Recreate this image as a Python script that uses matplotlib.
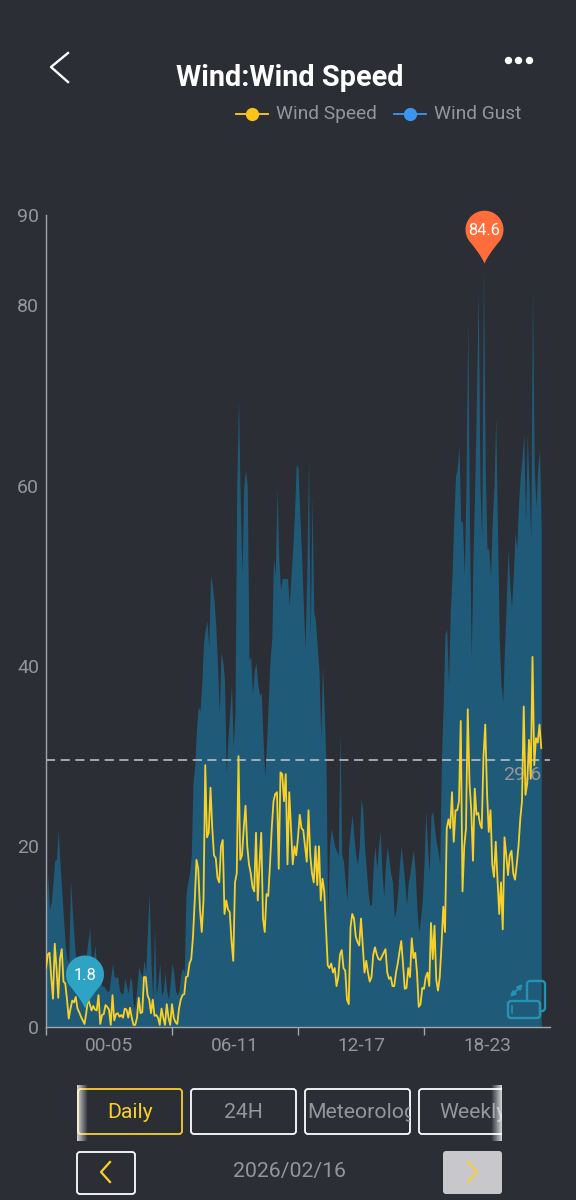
import numpy as np
import matplotlib
matplotlib.use("Agg")
import matplotlib.pyplot as plt
from matplotlib.patches import FancyBboxPatch, Polygon, Rectangle

plt.rcParams['font.family'] = ['Roboto', 'DejaVu Sans']

# one value every 5 minutes, 00:00 to 23:35
wind_speed = [
    6.5,8.0,8.2,5.5,3.1,9.2,6.5,3.2,7.5,8.6,5.0,4.8,
    3.0,0.9,2.0,2.9,2.7,3.3,2.0,1.6,1.1,0.7,0.3,1.5,
    3.1,2.5,1.8,2.3,1.9,1.8,3.5,0.3,1.3,1.4,2.4,2.2,
    1.9,0.2,3.5,0.7,1.4,1.5,1.1,1.3,1.0,2.0,1.9,1.0,
    2.1,1.0,0.2,0.2,1.0,3.2,1.5,1.6,5.5,5.5,3.5,3.0,
    1.5,3.0,1.2,1.3,1.0,0.2,2.0,1.0,0.2,2.5,1.0,0.2,
    2.5,1.0,0.5,0.3,2.0,3.0,3.5,3.6,5.5,5.6,7.0,7.5,
    10,14,18.5,17.5,13,10.5,14,29,21,21.5,26.5,22,
    19,18.7,16.5,16,20,20.7,12.5,14,13,12.7,9.5,7.3,
    16,17,30,18.5,19,22,24.5,20,18,17,15.5,15,
    21.5,14,18,21.5,12,10.5,14.7,14.5,18,22,25,25.8,
    26,17.5,28.2,28,25,28,18,26,22,18,20,19,
    21,23.5,22,21.8,20,18.3,24,19,17,16,20,15.7,
    20,14,16.4,15,11,6.8,6.5,7,6,6.5,4.5,5.5,
    8,8.5,6.5,6.2,3,2.5,11,12.5,12,10,9.4,9,
    12,9,6,7.3,6,5,5.5,8,8.8,8,7.5,7.4,
    7.8,8.2,8.6,6,5.3,5.5,4.5,4.5,6,7,8.3,9.5,
    7,4.2,4.3,6.5,5.5,9.8,7.6,8.2,6,2.2,2.5,4.3,
    4.2,5.5,6,4.5,11.5,7.5,11.2,5.2,4,5.5,9,13.3,
    10.5,22,23,22,26,20.5,24,24,25,33.9,15,20,
    22,35.2,27,24,18.4,26.4,23.5,23.7,22.5,22,30,33.5,
    26,21.6,24,18,16.6,20.5,16.3,12.5,16,10.8,21,19,
    16.8,19,19.5,17,16.3,18,20,23,25,35.5,25.7,27,
    31.8,27.5,41,29,32,31.5,33.5,30.9,
]
wind_gust = [
    12,16.8,13,13.8,16,18.5,18.5,21.8,18,15,12,9,
    7.5,7,16.3,13,10,7.4,6.5,5.5,4.8,6.5,6,8,
    9.5,10.9,7,7.5,9,6.5,5.5,5.2,4.5,4.5,4.2,3.9,
    4,5.5,7,5.5,5.5,5.5,4,3.7,3.7,5.4,4.5,3.7,
    5.5,5,2,2.5,4.5,6.7,6,5.5,7.4,6,11,14.8,
    7,3,10.9,3.5,5,7,3.5,4,6,4,3,5,
    7,6,4,3.5,4,5.8,6.5,6,14.8,16,17,19,
    27,29,33,35.5,35,38,42.5,44,45,42,50,49,
    47.3,44.5,40,34.7,41.5,40.5,38.5,28,32,35,38,31,
    35,60,69.8,58,50,60,61.7,60,40.7,41,36.8,39.5,
    40.3,38,36.8,37,32,27.7,31.4,36,40.6,43,52,50,
    59.7,52,48.5,49.7,49.7,49.7,49.7,46.7,50,53,57,62.3,
    62,57,52.5,47,42,50,63,43,58.8,46,45,42,
    39.5,32,40,35,29,12,20,22,21,20,19.5,19,
    32.9,19,18.3,16,14,20,22,23.5,21,19,18,20,
    25.3,24,20,17.5,15,13.5,13.5,18,20,17.5,20,21.6,
    17,14.4,18,20,18.5,17,16,12,13,15,18,20,
    18,16,13.5,16,17,18.5,19.6,17,13,10.5,12,14,
    18,24,20,17,23.5,23.8,22,20.5,19.5,18,30,36,
    43.6,44,38,46,50,56,61,62,64.3,56,56,50,
    60,78.3,55,41,52,60,70,81.5,60,54,84.6,62,
    53,53,50,56,60,67.6,55,43,38,36,42,47,
    53,49,46.5,50,54.7,53,58,61,63,65.8,56,65.8,
    60,54,82,62,57.6,62,64,55,
]
y_ticks = [0, 20, 40, 60, 80, 90]
hour_ticks = [0, 72, 144, 216]
hour_labels = ["00-05", "06-11", "12-17", "18-23"]
hour_label_pos = [36, 108, 180, 252]
average_speed = 29.6
min_value = 1.8
min_index = 22

n = min(len(wind_speed), len(wind_gust))
samples = np.arange(n)

bg = "#2b2e35"
gray = "#94969c"
axis_col = "#a3a6ac"
yellow = "#fbd026"
teal = "#2fa3c4"

fig = plt.figure(figsize=(5.76, 12), dpi=100, facecolor=bg)

ax = fig.add_axes([46/576, (1200-1026.7)/1200, 504/576, 811.7/1200], facecolor=bg)
ax.fill_between(samples, wind_gust[:n], color="#1f5b78", lw=0, zorder=1)
ax.axhline(average_speed, color="#c4c7cb", lw=1.1, dashes=(6, 3.6), zorder=2)
ax.text(n-1, average_speed-1.7, "29.6", color=gray, fontsize=14, ha="right", va="center", zorder=3)
ax.plot(samples, wind_speed[:n], color=yellow, lw=1.3, zorder=4)

ax.set_xlim(0, 288)
ax.set_ylim(0, 90)
ax.set_yticks(y_ticks)
ax.set_xticks(hour_ticks)
ax.set_xticklabels([])
ax.tick_params(axis="y", length=0, pad=5, labelcolor=gray, labelsize=14)
ax.tick_params(axis="x", length=5.8, width=1, color=axis_col)
for i, lab in zip(hour_label_pos, hour_labels):
    ax.annotate(lab, (i, 0), xytext=(0, -14), textcoords="offset points", color=gray,
                fontsize=13.7, ha="center", va="center", annotation_clip=False)
for s in ["top", "right"]:
    ax.spines[s].set_visible(False)
for s in ["left", "bottom"]:
    ax.spines[s].set_color(axis_col)
    ax.spines[s].set_linewidth(1)

# everything that is not the chart, in pixels of the screenshot
ui = fig.add_axes([0, 0, 1, 1], facecolor="none", zorder=5)


def to_px(i, v):
    dx, dy = ax.transData.transform((i, v))
    return dx, 1200 - dy


def pin(tip_x, tip_y, col, label):
    r = 19
    cy = tip_y - 34
    a = np.radians(np.linspace(-35, 215, 50))
    xs = tip_x + r*np.cos(a)
    ys = cy - r*np.sin(a)
    t = np.linspace(0, 1, 12)[1:-1]
    rx = (1-t)**2*xs[-1] + 2*t*(1-t)*(tip_x-3) + t**2*tip_x
    ry = (1-t)**2*ys[-1] + 2*t*(1-t)*(tip_y-8) + t**2*tip_y
    lx = (1-t)**2*tip_x + 2*t*(1-t)*(tip_x+3) + t**2*xs[0]
    ly = (1-t)**2*tip_y + 2*t*(1-t)*(tip_y-8) + t**2*ys[0]
    pts = np.r_[np.c_[xs, ys], np.c_[rx, ry], [[tip_x, tip_y]], np.c_[lx, ly]]
    ui.add_patch(Polygon(pts, closed=True, fc=col, ec="none"))
    ui.text(tip_x, cy+1, label, color="white", fontsize=11.8, ha="center", va="center")


max_i = int(np.argmax(wind_gust))
mx, my = to_px(max_i, wind_gust[max_i])
pin(mx+1, my, "#ff6d3b", str(wind_gust[max_i]))
px, py = to_px(min_index, min_value)
pin(px+0.5, py-2, teal, str(min_value))

# header
ui.plot([68, 51, 68], [53, 67, 82], color="white", lw=1.7)
ui.plot([508, 518, 529], [60, 60, 60], "o", color="white", ms=4.3)
ui.text(289.5, 78, "Wind:Wind Speed", color="white", fontsize=20.8, fontweight="bold", ha="center", va="center")
ui.plot([236, 268], [114, 114], color=yellow, lw=1.3)
ui.plot([252], [114], "o", color="#fcc419", ms=8.5)
ui.text(276, 114, "Wind Speed", color=gray, fontsize=13.8, ha="left", va="center")
ui.plot([394, 426], [114, 114], color="#3c96f0", lw=1.3)
ui.plot([410], [114], "o", color="#3c96f0", ms=8.5)
ui.text(434, 114, "Wind Gust", color=gray, fontsize=13.8, ha="left", va="center")

# rotate icon
icon = "#2592b3"
ui.add_patch(FancyBboxPatch((527, 981), 18, 30, boxstyle="round,pad=0,rounding_size=3", fc="none", ec=icon, lw=1.7))
ui.add_patch(FancyBboxPatch((508, 1001), 32, 17, boxstyle="round,pad=0,rounding_size=3", fc="#1f5b78", ec=icon, lw=1.7))
ui.plot([512, 512], [1006, 1013], color=icon, lw=1.2)
ui.annotate("", xy=(510, 997), xytext=(523, 984),
            arrowprops=dict(arrowstyle="<|-|>", color=icon, lw=1.5, mutation_scale=7, shrinkA=0, shrinkB=0))

# range buttons
buttons = [("Daily", 78, 182, yellow, yellow), ("24H", 191, 296, "white", gray),
           ("Meteorolog", 305, 410, "white", gray), ("Weekly", 419, 525, "white", gray)]
strip = Rectangle((77, 1080), 425, 60, transform=ui.transData)
for name, x0, x1, ec, tc in buttons:
    b = FancyBboxPatch((x0, 1089), x1-x0, 45, boxstyle="round,pad=0,rounding_size=3", fc="none", ec=ec, lw=1.3)
    ui.add_patch(b)
    b.set_clip_path(strip)
    if name == "Meteorolog":
        t = ui.text(x0+2, 1112, name, color=tc, fontsize=15.3, ha="left", va="center")
    elif name == "Weekly":
        t = ui.text(439, 1112, name, color=tc, fontsize=15.3, ha="left", va="center")
    else:
        t = ui.text((x0+x1)/2, 1112, name, color=tc, fontsize=15.3, ha="center", va="center")
    t.set_clip_on(True)
    t.set_clip_path(Rectangle((x0, 1089), min(x1, 502)-x0, 45, transform=ui.transData))

# white fades at both ends of the strip
fade = np.ones((1, 32, 4))
fade[0, :, 3] = np.linspace(0.8, 0, 32)
ui.imshow(fade, extent=(77, 88, 1141, 1085), aspect="auto", zorder=6)
ui.imshow(fade[:, ::-1], extent=(491, 502, 1141, 1085), aspect="auto", zorder=6)

# day navigation
ui.add_patch(FancyBboxPatch((77, 1152), 58, 42, boxstyle="round,pad=0,rounding_size=3", fc="none", ec="white", lw=1.3))
ui.plot([110, 101, 110], [1162, 1172, 1182], color=yellow, lw=1.6)
ui.text(289, 1171, "2026/02/16", color=gray, fontsize=15.3, ha="center", va="center")
ui.add_patch(FancyBboxPatch((443, 1151), 59, 43, boxstyle="round,pad=0,rounding_size=3", fc="#c8c8cc", ec="none"))
ui.plot([468, 477, 468], [1162, 1172, 1182], color="#f4cf45", lw=1.6)

ui.set_xlim(0, 576)
ui.set_ylim(1200, 0)
ui.axis("off")

fig.savefig("out.png", dpi=100, facecolor=bg)
